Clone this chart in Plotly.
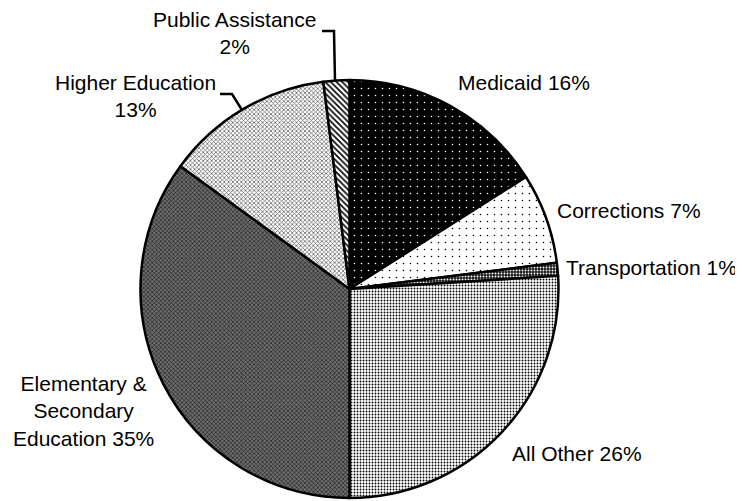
import plotly.graph_objects as go

categories = ["Medicaid", "Corrections", "Transportation", "All Other",
              "Elementary & Secondary Education", "Higher Education", "Public Assistance"]
shares = [16, 7, 1, 26, 35, 13, 2]

OFF = 8  # page body margin offset
W, H = 743 - OFF, 501 - OFF

patterns = dict(
    shape=[".", ".", ".", ".", "x", "x", "\\"],
    bgcolor=["#000000", "#ffffff", "#1a1a1a", "#ffffff", "#6e6e6e", "#ffffff", "#ffffff"],
    fgcolor=["#ffffff", "#000000", "#ffffff", "#000000", "#000000", "#666666", "#000000"],
    size=[7, 7, 3, 3, 3, 3, 4],
    solidity=[0.04, 0.04, 0.3, 0.3, 0.3, 0.45, 0.4],
)

def px(x, y):
    return (x - OFF) / W, 1 - (y - OFF) / H

cx, cy, r = 349.5, 289, 209
x0, y0 = px(cx - r, cy + r)
x1, y1 = px(cx + r, cy - r)

fig = go.Figure(go.Pie(
    labels=categories,
    values=shares,
    sort=False,
    direction="clockwise",
    rotation=0,
    textinfo="none",
    showlegend=False,
    marker=dict(line=dict(color="black", width=2.5), pattern=patterns),
    domain=dict(x=[x0, x1], y=[y0, y1]),
))

label_pos = {
    "Medicaid": (524, 82, "Medicaid 16%"),
    "Corrections": (629, 210, "Corrections 7%"),
    "Transportation": (651, 267, "Transportation 1%"),
    "All Other": (577, 453, "All Other 26%"),
    "Elementary & Secondary Education": (83, 411, "Elementary &<br>Secondary<br>Education 35%"),
    "Higher Education": (136, 96, "Higher Education<br>13%"),
    "Public Assistance": (234, 33, "Public Assistance<br>2%"),
}

annotations = []
for cat in categories:
    x, y, t = label_pos[cat]
    ax, ay = px(x, y)
    annotations.append(dict(x=ax, y=ay, xref="paper", yref="paper", text=t,
                            showarrow=False, xanchor="center", yanchor="middle",
                            borderpad=0,
                            font=dict(family="Liberation Sans, Arial", size=21, color="black")))

def path(points):
    s = ""
    for i, (x, y) in enumerate(points):
        a, b = px(x, y)
        s += ("M" if i == 0 else "L") + f"{a:.5f},{b:.5f} "
    return s.strip()

shapes = [
    dict(type="path", xref="paper", yref="paper", path=path([(322, 31), (334, 31), (335, 81)]),
         line=dict(color="black", width=2.5)),
    dict(type="path", xref="paper", yref="paper", path=path([(220, 94), (232, 94), (242, 110)]),
         line=dict(color="black", width=2.5)),
]

fig.update_layout(
    width=W, height=H,
    margin=dict(l=0, r=0, t=0, b=0),
    paper_bgcolor="white", plot_bgcolor="white",
    annotations=annotations, shapes=shapes,
)

fig.write_html("out.html")
